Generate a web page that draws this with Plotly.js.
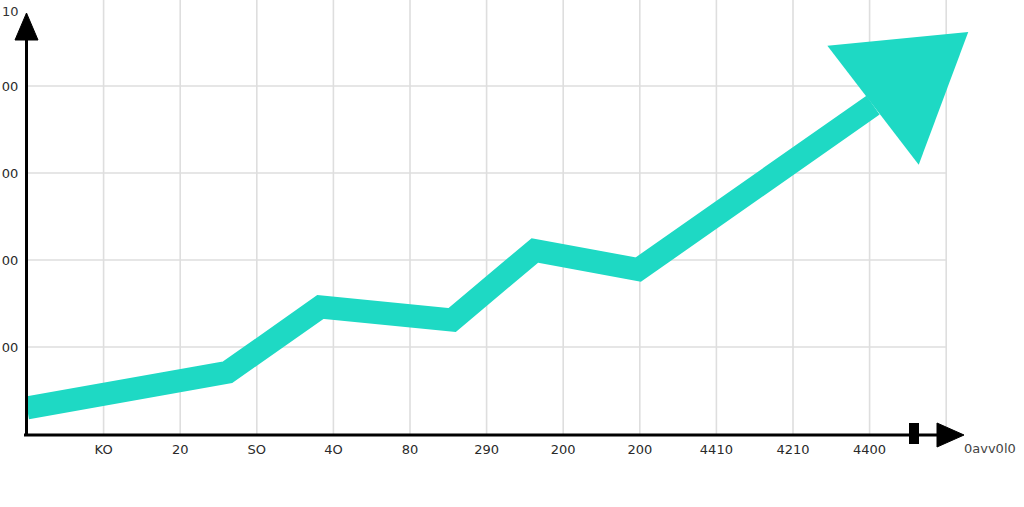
<!DOCTYPE html>
<html>
<head>
<meta charset="utf-8">
<script src="https://cdn.plot.ly/plotly-3.0.1.min.js"></script>
<style>html,body{margin:0;padding:0;background:#fff;}#chart{width:1024px;height:507px;}</style>
</head>
<body>
<div id="chart"></div>
<script>
// ---- data ----
const xTickVals = [1, 2, 3, 4, 5, 6, 7, 8, 9, 10, 11, 12];
const xTickText = ["KO", "20", "SO", "4O", "80", "290", "200", "200", "4410", "4210", "4400", ""];
const yTickVals = [1, 2, 3, 4];
const yTickText = ["00", "00", "00", "00"];
const seriesX = [0, 2.62, 3.83, 5.55, 6.63, 7.98, 11.045];
const seriesY = [0.30, 0.71, 1.46, 1.31, 2.11, 1.89, 3.78];
const topLabel = "10";
const xAxisLabel = "0avv0l0";

// ---- layout geometry ----
const W = 1024, H = 507;
const mL = 27, mR = 0, mT = 0, mB = 73;
const pw = W - mL - mR, ph = H - mT - mB;
const pxPerX = 76.6, pxPerY = 87;
const xMax = pw / pxPerX, yMax = ph / pxPerY;
const teal = "#1ED9C4";
const gridColor = "#dedede";

function px(x) { return (x - mL) / pw; }           // pixel -> paper x
function py(y) { return (H - mB - y) / ph; }       // pixel -> paper y

// arrow head built from the last segment's direction (slightly rotated)
const n = seriesX.length;
const ddx = (seriesX[n-1] - seriesX[n-2]) * pxPerX;
const ddy = (seriesY[n-1] - seriesY[n-2]) * pxPerY;
const ang = Math.atan2(ddy, ddx) + 2.5 * Math.PI / 180;
const ux = Math.cos(ang), uy = Math.sin(ang);
const headLen = 120, headHalf = 75;
const ex = seriesX[n-1], ey = seriesY[n-1];
const headX = [
  ex + (-uy * headHalf) / pxPerX,
  ex + (ux * headLen) / pxPerX,
  ex + (uy * headHalf) / pxPerX,
  ex + (-uy * headHalf) / pxPerX
];
const headY = [
  ey + (ux * headHalf) / pxPerY,
  ey + (uy * headLen) / pxPerY,
  ey + (-ux * headHalf) / pxPerY,
  ey + (ux * headHalf) / pxPerY
];

const traces = [
  {
    x: seriesX, y: seriesY, type: "scatter", mode: "lines",
    line: { color: teal, width: 23 }, hoverinfo: "skip", showlegend: false
  },
  {
    x: headX, y: headY, type: "scatter", mode: "lines", fill: "toself",
    fillcolor: teal, line: { color: teal, width: 0 }, hoverinfo: "skip", showlegend: false
  }
];

function tri(p1, p2, p3) {
  return `M${px(p1[0])},${py(p1[1])} L${px(p2[0])},${py(p2[1])} L${px(p3[0])},${py(p3[1])} Z`;
}

const shapes = [];
// grid lines, drawn from the tick arrays, stopping at the last vertical line
const gridRight = xTickVals[xTickVals.length - 1];
xTickVals.forEach(v => shapes.push({
  type: "line", xref: "x", yref: "paper", x0: v, x1: v, y0: 0, y1: 1,
  line: { color: gridColor, width: 1.6 }, layer: "below"
}));
yTickVals.forEach(v => shapes.push({
  type: "line", xref: "x", yref: "y", x0: 0, x1: gridRight, y0: v, y1: v,
  line: { color: gridColor, width: 1.6 }, layer: "below"
}));
shapes.push(
  // x axis line + arrow
  { type: "line", xref: "paper", yref: "paper", x0: px(24), x1: px(942), y0: py(435), y1: py(435),
    line: { color: "#000", width: 3 } },
  { type: "path", xref: "paper", yref: "paper", path: tri([937, 423], [964, 435], [937, 447]),
    fillcolor: "#000", line: { color: "#000", width: 1 } },
  // y axis line + arrow
  { type: "line", xref: "paper", yref: "paper", x0: px(26.5), x1: px(26.5), y0: py(436), y1: py(36),
    line: { color: "#000", width: 3 } },
  { type: "path", xref: "paper", yref: "paper", path: tri([15, 40], [26.5, 13], [38, 40]),
    fillcolor: "#000", line: { color: "#000", width: 1 } },
  // small black marker on the x axis
  { type: "rect", xref: "paper", yref: "paper", x0: px(909), x1: px(919), y0: py(444), y1: py(423),
    fillcolor: "#000", line: { width: 0 } }
);

const annotations = [
  { xref: "paper", yref: "paper", x: px(21), y: py(12), xanchor: "right", yanchor: "middle",
    text: topLabel, showarrow: false, font: { family: "DejaVu Sans", size: 13, color: "#333" } },
  { xref: "paper", yref: "paper", x: px(990), y: py(448), xanchor: "center", yanchor: "middle",
    text: xAxisLabel, showarrow: false, font: { family: "DejaVu Sans", size: 13, color: "#444" } }
];

const layout = {
  width: W, height: H,
  margin: { l: mL, r: mR, t: mT, b: mB, pad: 0 },
  paper_bgcolor: "#ffffff", plot_bgcolor: "#ffffff",
  showlegend: false,
  font: { family: "DejaVu Sans", size: 13, color: "#333" },
  xaxis: {
    range: [0, xMax], tickmode: "array", tickvals: xTickVals, ticktext: xTickText,
    showgrid: false, zeroline: false, showline: false,
    ticks: "outside", ticklen: 3, tickcolor: "rgba(0,0,0,0)",
    tickfont: { family: "DejaVu Sans", size: 13, color: "#2a2a2a" }, fixedrange: true
  },
  yaxis: {
    range: [0, yMax], tickmode: "array", tickvals: yTickVals, ticktext: yTickText,
    showgrid: false, zeroline: false, showline: false,
    ticks: "outside", ticklen: 5, tickcolor: "rgba(0,0,0,0)",
    tickfont: { family: "DejaVu Sans", size: 13, color: "#2a2a2a" }, fixedrange: true
  },
  shapes: shapes,
  annotations: annotations
};

Plotly.newPlot("chart", traces, layout, { displayModeBar: false, staticPlot: true });
</script>
</body>
</html>
